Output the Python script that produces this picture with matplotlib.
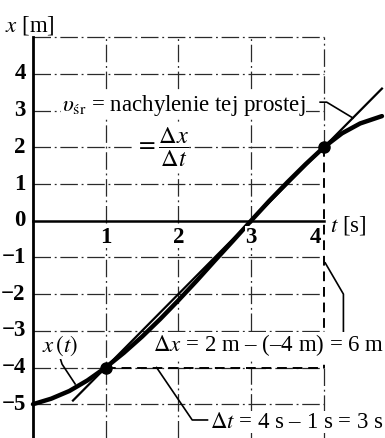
import matplotlib
matplotlib.use("Agg")
import matplotlib.pyplot as plt

plt.rcParams['font.family'] = ['Liberation Serif', 'DejaVu Serif']
plt.rcParams['mathtext.fontset'] = 'stix'

# position x(t) of the body, read at 0.25 s steps
t_curve = [0, 0.25, 0.5, 0.75, 1, 1.25, 1.5, 1.75, 2, 2.25, 2.5, 2.75, 3,
           3.25, 3.5, 3.75, 4, 4.25, 4.5, 4.8]
x_curve = [-5, -4.85, -4.64, -4.35, -4, -3.6, -3.16, -2.68, -2.17, -1.64,
           -1.09, -0.55, 0, 0.54, 1.05, 1.54, 2, 2.38, 2.65, 2.85]

# secant through the two marked points
chord_t = [0.55, 4.8]
chord_x = [-4.9, 3.6]
points_t = [1, 4]
points_x = [-4, 2]

x_ticks = [1, 2, 3, 4]
y_ticks = [-5, -4, -3, -2, -1, 0, 1, 2, 3, 4]

W, H = 385, 438
fig = plt.figure(figsize=(W / 100, H / 100), dpi=100)
ax = fig.add_axes([0, 0, 1, 1])
ax.set_axis_off()
ax.set_xlim(-0.454, 4.842)
ax.set_ylim(-5.921, 6.014)

grid_kw = dict(color='#2a2a2a', lw=0.9, ls=(0, (14, 3, 1.5, 3)), zorder=1)
for yv in [-5, -4, -3, -2, -1, 1, 2, 3, 4, 5]:
    ax.plot([0, 4], [yv, yv], **grid_kw)
for tv in [1, 2, 3]:
    ax.plot([tv, tv], [-5.92, 5], **grid_kw)
ax.plot([4, 4], [2, 5], **grid_kw)
ax.plot([4, 4], [-4, -5.92], **grid_kw)

# axes
ax.plot([0, 0], [-5.92, 5], color='black', lw=2.0, zorder=3)
ax.plot([0, 4], [0, 0], color='black', lw=1.8, zorder=3)

# differences
dash_kw = dict(color='black', lw=1.4, ls=(0, (5, 3)), zorder=3)
ax.plot([points_t[0], points_t[1]], [points_x[0], points_x[0]], **dash_kw)
ax.plot([points_t[1], points_t[1]], [points_x[1], points_x[0]], **dash_kw)

ax.plot(chord_t, chord_x, color='black', lw=1.6, zorder=4)
ax.plot(t_curve, x_curve, color='black', lw=3.2, solid_capstyle='round', zorder=5)
ax.plot(points_t, points_x, 'o', color='black', ms=8, zorder=6)

fs = 16.5
bg = dict(facecolor='white', edgecolor='none', pad=0.5)
for tv in x_ticks:
    xpos = tv - 0.12 if tv == 4 else tv
    ax.text(xpos, -0.45, str(tv), ha='center', va='center', fontsize=fs,
            fontweight='bold', zorder=7, bbox=bg)
for yv in y_ticks:
    lab = str(yv).replace('-', '\u2212')
    ax.text(-0.1, yv, lab, ha='right', va='center', fontsize=fs,
            fontweight='bold', zorder=7)

ax.text(-0.04, 5.33, r'$x$ [m]', ha='center', va='center', fontsize=fs)
ax.text(4.08, -0.12, r'$t$ [s]', ha='left', va='center', fontsize=fs)

ax.text(0.40, 3.15, r'$\upsilon_{\mathrm{śr}}$ = nachylenie tej prostej',
        ha='left', va='center', fontsize=fs, zorder=7, bbox=bg)
ax.text(1.40, 2.0, r'$=\dfrac{\Delta x}{\Delta t}$', ha='left', va='center',
        fontsize=fs + 1, zorder=7, bbox=bg)
ax.plot([3.95, 4.04, 4.40], [3.23, 3.23, 2.80], color='black', lw=1.2, zorder=6)

ax.text(0.37, -3.42, r'$x\,(t)$', ha='center', va='center', fontsize=fs,
        zorder=7, bbox=bg)
ax.plot([0.37, 0.40, 0.58], [-3.72, -3.91, -4.45], color='black', lw=1.2, zorder=6)

ax.text(4.83, -3.4, r'$\Delta x$ = 2 m – (–4 m) = 6 m', ha='right', va='center',
        fontsize=fs, zorder=7, bbox=bg)
ax.plot([4.02, 4.27, 4.27], [-1.15, -2.0, -3.1], color='black', lw=1.2, zorder=6)

ax.text(4.83, -5.49, r'$\Delta t$ = 4 s – 1 s = 3 s', ha='right', va='center',
        fontsize=fs, zorder=7, bbox=bg)
ax.plot([1.7, 2.19, 2.40], [-4.0, -5.43, -5.43], color='black', lw=1.2, zorder=6)

fig.savefig('out.png', dpi=100)
